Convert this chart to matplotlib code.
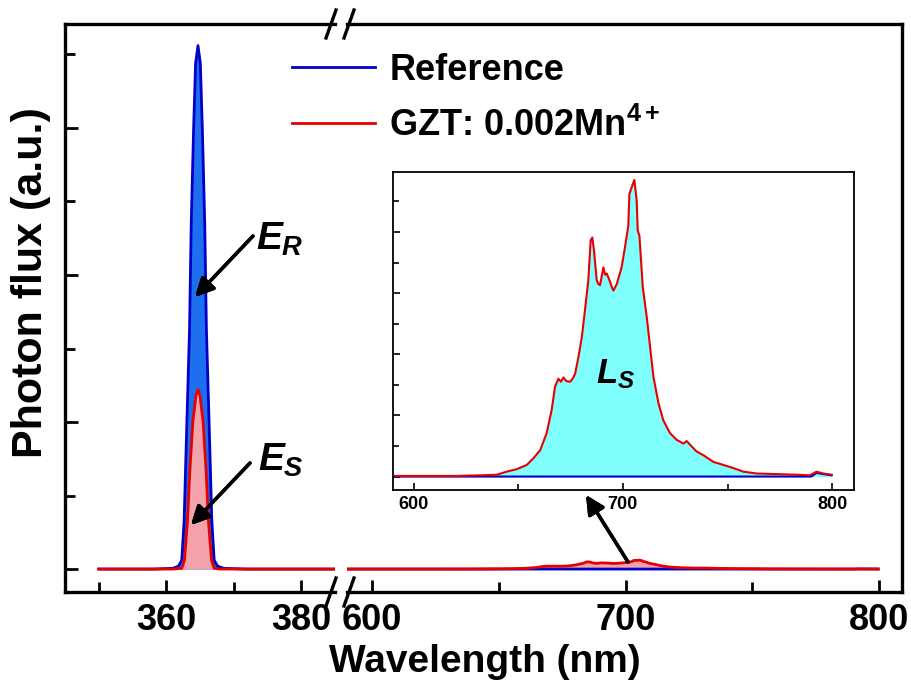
import matplotlib
matplotlib.use('Agg')
import matplotlib.pyplot as plt
from matplotlib.ticker import MultipleLocator, NullFormatter
from matplotlib.lines import Line2D

plt.rcParams['font.family'] = ['Liberation Sans', 'DejaVu Sans']
plt.rcParams['font.weight'] = 'bold'
plt.rcParams['mathtext.fontset'] = 'custom'
plt.rcParams['mathtext.rm'] = 'Liberation Sans:bold'
plt.rcParams['mathtext.it'] = 'Liberation Sans:italic:bold'

# excitation region (major y tick = 1 unit)
ref_wl = [350, 358, 361, 361.8, 362.3, 362.65, 363.05, 363.45, 363.7, 364.05, 364.35, 364.7,
          365.05, 365.35, 365.7, 365.95, 366.35, 366.75, 367.1, 367.6, 368.5, 372, 385]
ref_ex = [0, 0, 0.005, 0.02, 0.06, 0.33, 0.99, 1.63, 2.35, 2.99, 3.44, 3.56,
          3.44, 2.99, 2.35, 1.63, 0.99, 0.33, 0.06, 0.02, 0.005, 0, 0]
smp_wl = [350, 361, 362.3, 362.7, 363.15, 363.5, 363.95, 364.15, 364.4, 364.7,
          365.0, 365.25, 365.45, 365.9, 366.25, 366.7, 367.1, 368, 385]
smp_ex = [0, 0, 0.005, 0.06, 0.33, 0.67, 1.01, 1.08, 1.18, 1.22,
          1.18, 1.08, 1.01, 0.67, 0.33, 0.06, 0.005, 0, 0]

# emission region (inset units, major y tick = 1 unit)
em_wl = [590, 620, 631.8, 639.8, 644.5, 649.3, 654.1, 657.3, 660.5, 663.6, 666.0, 667.6,
         669.2, 670.4, 671.6, 673.0, 674.8, 676.0, 677.2, 678.8, 680.4, 681.9, 683.5, 684.6,
         685.4, 686.2, 687.5, 688.3, 689.1, 690.7, 691.5, 692.3, 693.9, 694.7, 695.5, 697.1,
         699.4, 701.0, 702.6, 703.1, 704.2, 705.5, 706.6, 707.1, 707.9, 709.5, 711.4, 713.0,
         714.6, 717.0, 719.3, 722.5, 725.7, 728.9, 730.5, 732.1, 735.2, 738.4, 743.2, 748.0,
         752.7, 757.5, 763.9, 773.4, 783.0, 789.3, 792.5, 795.7, 799.7]
em_smp = [0.01, 0.01, 0.02, 0.03, 0.08, 0.12, 0.19, 0.30, 0.43, 0.71, 1.09, 1.47,
          1.60, 1.55, 1.62, 1.56, 1.55, 1.60, 1.68, 1.96, 2.28, 2.72, 3.21, 3.86,
          3.91, 3.70, 3.21, 3.15, 3.13, 3.42, 3.30, 3.32, 3.18, 3.10, 3.04, 3.15,
          3.42, 3.75, 4.10, 4.62, 4.73, 4.85, 4.51, 4.02, 3.94, 3.10, 2.61, 2.12,
          1.63, 1.20, 0.92, 0.71, 0.60, 0.54, 0.58, 0.52, 0.41, 0.35, 0.24, 0.19,
          0.14, 0.08, 0.05, 0.04, 0.03, 0.02, 0.08, 0.05, 0.03]
em_ref_wl = [590, 790, 792.5, 795.7, 799.7]
em_ref = [0, 0, 0.06, 0.04, 0.02]
main_scale = 0.0125  # inset units -> main units

blue_line = '#0000c8'
blue_fill = '#1e6ef0'
red_line = '#e60000'
pink_fill = '#f5a3ab'
cyan_fill = '#80ffff'

W, H = 912, 693
fig = plt.figure(figsize=(9.12, 6.93), dpi=100)


def fx(x):
    return x / W


def fy(y):
    return 1 - y / H


y0, y1 = fy(592), fy(24)
axL = fig.add_axes([fx(65), y0, fx(335) - fx(65), y1 - y0])
axR = fig.add_axes([fx(347), y0, fx(902) - fx(347), y1 - y0])

axL.fill_between(ref_wl, 0, ref_ex, color=blue_fill, lw=0)
axL.fill_between(smp_wl, 0, smp_ex, color=pink_fill, lw=0)
axL.plot(ref_wl, ref_ex, color=blue_line, lw=2)
axL.plot(smp_wl, smp_ex, color=red_line, lw=2)

em_main = [v * main_scale for v in em_smp]
axR.fill_between(em_wl, 0, em_main, color=pink_fill, lw=0)
axR.plot(em_ref_wl, [v * main_scale for v in em_ref], color=blue_line, lw=2)
axR.plot(em_wl, em_main, color=red_line, lw=2)

axL.set_xlim(345, 385)
axR.set_xlim(590.1, 809.1)
for ax in (axL, axR):
    ax.set_ylim(-0.156, 3.707)
    for s in ax.spines.values():
        s.set_linewidth(2.4)
    ax.tick_params(which='both', direction='in', width=2, labelsize=26, pad=8,
                   top=False, right=False)
    ax.tick_params(which='major', length=9)
    ax.tick_params(which='minor', length=7)
    ax.yaxis.set_major_locator(MultipleLocator(1))
    ax.yaxis.set_minor_locator(MultipleLocator(0.5))
    ax.yaxis.set_major_formatter(NullFormatter())

axL.spines['right'].set_visible(False)
axR.spines['left'].set_visible(False)
axR.tick_params(which='both', left=False)
axL.xaxis.set_major_locator(MultipleLocator(20))
axL.xaxis.set_minor_locator(MultipleLocator(10))
axR.xaxis.set_major_locator(MultipleLocator(100))
axR.xaxis.set_minor_locator(MultipleLocator(50))

# break marks
for yc in (24, 592):
    for xc in (331, 349):
        fig.add_artist(Line2D([fx(xc - 5), fx(xc + 5)], [fy(yc + 14), fy(yc - 14)],
                              color='k', lw=2.4))

# legend
handles = [Line2D([], [], color=blue_line, lw=2), Line2D([], [], color=red_line, lw=2)]
fig.legend(handles, ['Reference', 'GZT: 0.002Mn$^{\\mathrm{4+}}$'], loc='upper left',
           bbox_to_anchor=(fx(292), fy(53)), frameon=False, fontsize=26,
           handlelength=2.3, handletextpad=0.4, labelspacing=0.55, borderpad=0,
           borderaxespad=0)

# annotations
fig.text(fx(256), fy(250), '$E_R$', fontsize=28, ha='left', va='baseline')
fig.text(fx(258), fy(471), '$E_S$', fontsize=28, ha='left', va='baseline')
arrow = dict(arrowstyle='-|>', lw=2.5, mutation_scale=28, color='k', shrinkA=0, shrinkB=0)
fig.add_artist(plt.annotate('', xy=(fx(195), fy(297)), xytext=(fx(253), fy(236)),
                            xycoords='figure fraction', arrowprops=arrow))
fig.add_artist(plt.annotate('', xy=(fx(191), fy(525)), xytext=(fx(250), fy(463)),
                            xycoords='figure fraction', arrowprops=arrow))
fig.add_artist(plt.annotate('', xy=(fx(586), fy(495)), xytext=(fx(628), fy(562)),
                            xycoords='figure fraction', arrowprops=arrow))

fig.text(fx(485), fy(662), 'Wavelength (nm)', fontsize=28, ha='center', va='center')
fig.text(fx(31), fy(283), 'Photon flux (a.u.)', fontsize=31, ha='center', va='center',
         rotation=90)

# inset
ix0, ix1, iy0, iy1 = fx(393), fx(854), fy(490), fy(172)
axI = fig.add_axes([ix0, iy0, ix1 - ix0, iy1 - iy0])
axI.fill_between(em_wl, 0, em_smp, color=cyan_fill, lw=0)
axI.plot(em_ref_wl, em_ref, color=blue_line, lw=1.5)
axI.plot(em_wl, em_smp, color=red_line, lw=1.5)
axI.set_xlim(590.2, 810.4)
axI.set_ylim(-0.22, 4.98)
for s in axI.spines.values():
    s.set_linewidth(1.3)
axI.xaxis.set_major_locator(MultipleLocator(100))
axI.xaxis.set_minor_locator(MultipleLocator(50))
axI.yaxis.set_major_locator(MultipleLocator(1))
axI.yaxis.set_minor_locator(MultipleLocator(0.5))
axI.yaxis.set_major_formatter(NullFormatter())
axI.tick_params(which='both', direction='in', width=1.2, labelsize=13, pad=4,
                top=False, right=False)
axI.tick_params(which='major', length=5)
axI.tick_params(which='minor', length=4)
axI.text(687, 1.53, '$L_S$', fontsize=25, ha='left', va='baseline')

fig.savefig('out.png', dpi=100)
